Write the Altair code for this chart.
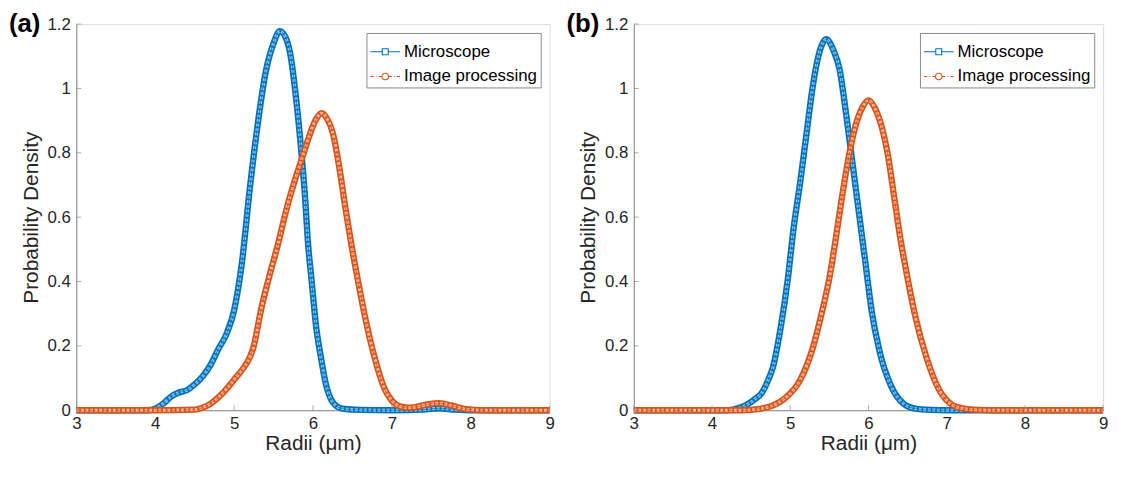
import altair as alt
import pandas as pd

SERIES = ["Microscope", "Image processing"]
X_TICKS = [3, 4, 5, 6, 7, 8, 9]
Y_TICKS = [0, 0.2, 0.4, 0.6, 0.8, 1.0, 1.2]

# Panel (a)
a_micro_x = [3.0, 3.5, 3.9, 4.0, 4.1, 4.2, 4.3, 4.4, 4.5, 4.6, 4.7, 4.8, 4.9, 5.0, 5.1, 5.2, 5.3, 5.4,
             5.5, 5.58, 5.65, 5.71, 5.79, 5.85, 5.90, 5.94, 5.98, 6.04, 6.10, 6.16, 6.25, 6.37, 6.6,
             7.0, 7.4, 7.6, 7.8, 8.0, 9.0]
a_micro_y = [0.0, 0.0, 0.0, 0.005, 0.02, 0.042, 0.055, 0.062, 0.08, 0.105, 0.14, 0.19, 0.235, 0.31,
             0.46, 0.69, 0.89, 1.05, 1.14, 1.178, 1.16, 1.11, 0.96, 0.81, 0.66, 0.51, 0.41, 0.26,
             0.165, 0.085, 0.025, 0.005, 0.001, 0.0, 0.002, 0.006, 0.002, 0.0, 0.0]
a_img_x = [3.0, 4.0, 4.5, 4.6, 4.7, 4.8, 4.9, 5.0, 5.1, 5.2, 5.25, 5.3, 5.34, 5.44, 5.55, 5.67, 5.79,
           5.87, 5.95, 6.03, 6.11, 6.18, 6.25, 6.33, 6.41, 6.49, 6.58, 6.66, 6.78, 6.91, 7.0, 7.1,
           7.2, 7.3, 7.45, 7.6, 7.75, 7.9, 8.0, 8.2, 9.0]
a_img_y = [0.0, 0.0, 0.002, 0.008, 0.02, 0.04, 0.065, 0.095, 0.125, 0.165, 0.2, 0.26, 0.31, 0.41,
           0.51, 0.63, 0.73, 0.79, 0.85, 0.9, 0.923, 0.905, 0.863, 0.76, 0.63, 0.51, 0.39, 0.29,
           0.165, 0.065, 0.03, 0.012, 0.008, 0.01, 0.018, 0.022, 0.015, 0.005, 0.002, 0.0, 0.0]

# Panel (b)
b_micro_x = [3.0, 4.2, 4.3, 4.43, 4.55, 4.64, 4.72, 4.78, 4.88, 4.97, 5.04, 5.13, 5.21, 5.29, 5.37,
             5.46, 5.55, 5.63, 5.72, 5.80, 5.88, 5.96, 6.04, 6.14, 6.29, 6.45, 6.6, 6.8, 7.0, 9.0]
b_micro_y = [0.0, 0.0, 0.004, 0.015, 0.035, 0.055, 0.095, 0.135, 0.26, 0.41, 0.56, 0.713, 0.863,
             1.01, 1.11, 1.153, 1.12, 1.06, 0.91, 0.76, 0.61, 0.46, 0.31, 0.185, 0.075, 0.02, 0.005,
             0.001, 0.0, 0.0]
b_img_x = [3.0, 4.4, 4.6, 4.72, 4.92, 5.13, 5.29, 5.41, 5.50, 5.58, 5.66, 5.75, 5.83, 5.92, 6.0,
           6.08, 6.17, 6.25, 6.33, 6.41, 6.50, 6.60, 6.74, 6.90, 7.05, 7.2, 7.4, 7.6, 9.0]
b_img_y = [0.0, 0.0, 0.004, 0.01, 0.035, 0.095, 0.195, 0.31, 0.41, 0.53, 0.66, 0.79, 0.88, 0.94,
           0.963, 0.94, 0.88, 0.79, 0.66, 0.53, 0.41, 0.29, 0.165, 0.065, 0.02, 0.006, 0.001, 0.0,
           0.0]

BLUE, ORANGE = "#0072BD", "#D95319"
BLUE_IN, ORANGE_IN = "#9CC6E6", "#F0B79E"
FONT = "Liberation Sans"
TXT = "#262626"
AX = "#8a8a8a"
SQ = "M-1,0H-0.2M0.2,0H1M-0.2,-0.2H0.2V0.2H-0.2Z"
CI = ("M-1,0H-0.78M-0.64,0H-0.58M-0.44,0H-0.24M0.24,0H0.44M0.58,0H0.64M0.78,0H1"
      "M0.22,0A0.22,0.22 0 1,1 -0.22,0A0.22,0.22 0 1,1 0.22,0Z")


def panel(mx, my, ix, iy, tag, W, H, tag_x):
    df = pd.concat([
        pd.DataFrame({"x": mx, "y": my, "series": SERIES[0]}),
        pd.DataFrame({"x": ix, "y": iy, "series": SERIES[1]}),
    ])
    base = alt.Chart(df)
    xenc = alt.X("x:Q", scale=alt.Scale(domain=[3, 9], nice=False),
                 axis=alt.Axis(values=X_TICKS, format="~g", title="Radii (μm)", grid=False,
                               tickSize=0, labelFlush=False,
                               labelFontSize=17, titleFontSize=21, labelFont=FONT, titleFont=FONT,
                               labelColor=TXT, titleColor=TXT, titleFontWeight="normal",
                               domainColor=AX, labelPadding=5, titlePadding=2))
    yenc = alt.Y("y:Q", scale=alt.Scale(domain=[0, 1.2], nice=False),
                 axis=alt.Axis(values=Y_TICKS, format="~g", title="Probability Density",
                               grid=False, tickSize=0, labelFontSize=17, titleFontSize=21,
                               labelFont=FONT, titleFont=FONT, labelColor=TXT, titleColor=TXT,
                               titleFontWeight="normal", domainColor=AX, labelPadding=6,
                               labelFlush=False, titlePadding=6))
    layers = []
    for s, c, ci, dash in [(SERIES[0], BLUE, BLUE_IN, [1, 0]),
                           (SERIES[1], ORANGE, ORANGE_IN, [6, 3, 1.5, 3])]:
        sub = base.transform_filter(alt.datum.series == s)
        layers.append(sub.mark_line(color=c, strokeWidth=6.4, interpolate="monotone").encode(x=xenc, y=yenc))
        layers.append(sub.mark_line(color=ci, strokeWidth=3.0, strokeDash=[3, 1.6],
                                    interpolate="monotone").encode(x="x:Q", y="y:Q"))
        layers.append(sub.mark_line(color=c, strokeWidth=0.8, strokeDash=dash,
                                    interpolate="monotone").encode(x="x:Q", y="y:Q"))
    leg = alt.Legend(title=None, orient="top-right", offset=9, labelFontSize=17, labelFont=FONT,
                     labelColor="#000", symbolSize=900, symbolStrokeWidth=1.1, symbolOpacity=1,
                     labelOffset=3, padding=3, strokeColor="#8a8a8a", fillColor="white",
                     rowPadding=1, labelLimit=300)
    layers.append(base.mark_point(opacity=0, filled=False).encode(
        x="x:Q", y="y:Q",
        color=alt.Color("series:N", scale=alt.Scale(domain=SERIES, range=[BLUE, ORANGE]), legend=leg),
        shape=alt.Shape("series:N", scale=alt.Scale(domain=SERIES, range=[SQ, CI]), legend=leg),
    ))
    tdf = pd.DataFrame({"t": X_TICKS})
    layers.append(alt.Chart(tdf).mark_tick(color=AX, size=5, thickness=1).encode(
        x="t:Q", y=alt.value(H - 2.5)))
    ydf = pd.DataFrame({"t": Y_TICKS})
    layers.append(alt.Chart(ydf).mark_tick(color=AX, size=5, thickness=1).encode(
        y="t:Q", x=alt.value(2.5)))
    layers.append(alt.Chart(pd.DataFrame({"t": [tag]})).mark_text(
        font=FONT, fontSize=26, fontWeight="bold", color="#000", align="left",
        baseline="alphabetic").encode(text="t:N", x=alt.value(tag_x), y=alt.value(8)))
    return alt.layer(*layers).properties(width=W, height=H)


pa = panel(a_micro_x, a_micro_y, a_img_x, a_img_y, "(a)", 478, 390, -68)
pb = panel(b_micro_x, b_micro_y, b_img_x, b_img_y, "(b)", 474, 390, -68)

chart = alt.hconcat(pa, pb, spacing=2).resolve_scale(color="independent", shape="independent").properties(
    padding={"left": 0, "top": 0, "right": 0, "bottom": 0}
).configure_view(stroke="#e4e4e4").configure(background="white")

chart.save("out.html", embed_options={"renderer": "svg", "actions": False})
